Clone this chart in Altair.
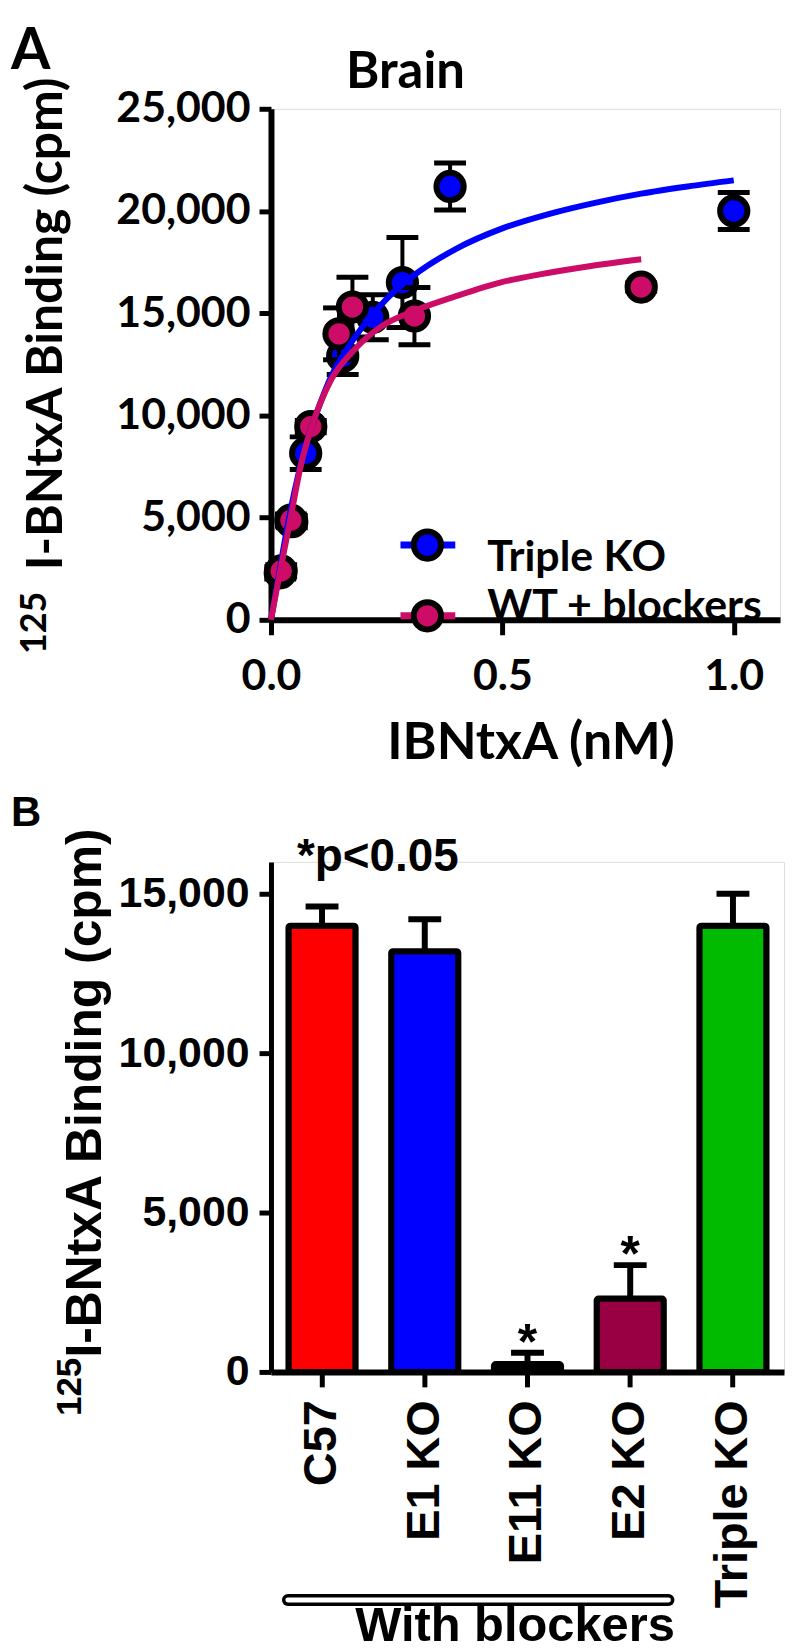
import altair as alt
import pandas as pd

# ---------------- Panel A data ----------------
series_names = ["Triple KO", "WT + blockers"]

tko_x = [0.02, 0.045, 0.075, 0.155, 0.22, 0.284, 0.387, 1.0]
tko_y = [2300, 4800, 8150, 12900, 14800, 16500, 21200, 20000]
tko_err = [300, 300, 800, 900, 1100, 2200, 1150, 900]

wt_x = [0.022, 0.043, 0.086, 0.147, 0.176, 0.31, 0.80]
wt_y = [2390, 4875, 9455, 13990, 15300, 14860, 16280]
wt_err = [300, 300, 300, 1270, 1460, 1400, 200]

tko_fit_x = [0, 0.02, 0.04, 0.06, 0.08, 0.1, 0.13, 0.16, 0.2, 0.25, 0.3, 0.4, 0.5, 0.6, 0.7, 0.8, 0.9, 1.0]
tko_fit_y = [0, 2600, 5100, 7200, 8900, 10200, 11900, 13100, 14400, 15700, 16700, 18150, 19150, 19850, 20400, 20850, 21200, 21500]

wt_fit_x = [0, 0.02, 0.04, 0.065, 0.086, 0.129, 0.178, 0.237, 0.308, 0.394, 0.495, 0.581, 0.688, 0.8]
wt_fit_y = [0, 2400, 4700, 7600, 9300, 11700, 13160, 14330, 15100, 15790, 16500, 16900, 17300, 17640]

xA_ticks = [0, 0.5, 1.0]
yA_ticks = [0, 5000, 10000, 15000, 20000, 25000]

# ---------------- Panel B data ----------------
groups = ["C57", "E1 KO", "E11 KO", "E2 KO", "Triple KO"]
binding = [14000, 13200, 250, 2300, 14000]
binding_err = [600, 1000, 350, 1050, 1000]
sig = ["", "", "*", "*", ""]
yB_ticks = [0, 5000, 10000, 15000]

# ---------------- styles ----------------
BLUE = "#0000FF"
PINK = "#CC0C66"
bar_colors = ["#FF0000", "#0000FF", "#000000", "#990044", "#00BB00"]
FA = "Lato"
FB = "Liberation Sans"


def label(text, x, y, font, size, angle=0, align="left", baseline="alphabetic", color="black"):
    return alt.Chart(pd.DataFrame({"t": [text]})).mark_text(
        font=font, fontSize=size, fontWeight="bold", align=align,
        baseline=baseline, angle=angle, color=color
    ).encode(x=alt.value(x), y=alt.value(y), text="t:N")


# ---------------- Panel A ----------------
W_A, H_A = 511, 513
xA_scale = alt.Scale(domain=[0, 1.1], nice=False, zero=False)
yA_scale = alt.Scale(domain=[0, 25000], nice=False)
xA_axis = alt.Axis(values=xA_ticks, format=".1f", title=None, grid=False,
                   labelFont=FA, labelFontSize=43, labelFontWeight="bold", labelColor="black",
                   labelFlush=False, labelOverlap=False,
                   domainColor="black", domainWidth=6, tickColor="black", tickWidth=5,
                   tickSize=15, labelPadding=21)
yA_axis = alt.Axis(values=yA_ticks, format=",d", title=None, grid=False,
                   labelFont=FA, labelFontSize=43, labelFontWeight="bold", labelColor="black",
                   labelFlush=False, labelOverlap=False,
                   domainColor="black", domainWidth=6, tickColor="black", tickWidth=5,
                   tickSize=12, labelPadding=9)


def XA(field="x"):
    return alt.X(f"{field}:Q", scale=xA_scale, axis=xA_axis)


def YA(field="y"):
    return alt.Y(f"{field}:Q", scale=yA_scale, axis=yA_axis)


def series_layers(xs, ys, es, fill):
    df = pd.DataFrame({"x": xs, "y": ys,
                       "lo": [v - e for v, e in zip(ys, es)],
                       "hi": [v + e for v, e in zip(ys, es)]})
    caps = pd.DataFrame({"x": xs + xs,
                         "y": list(df["lo"]) + list(df["hi"])})
    err = alt.Chart(df).mark_rule(color="black", strokeWidth=4).encode(
        x=XA(), y=YA("lo"), y2="hi:Q")
    cap = alt.Chart(caps).mark_tick(orient="horizontal", size=32, thickness=5,
                                    color="black", opacity=1).encode(x=XA(), y=YA())
    pts = alt.Chart(df).mark_circle(size=750, fill=fill, stroke="black", strokeWidth=6,
                                    opacity=1, fillOpacity=1, strokeOpacity=1).encode(
        x=XA(), y=YA())
    return [err, cap, pts]


def fit_layer(xs, ys, color):
    return alt.Chart(pd.DataFrame({"x": xs, "y": ys})).mark_line(
        color=color, strokeWidth=6, interpolate="monotone").encode(x=XA(), y=YA())


def legend_entry(name, color, sx, sy, tx, ty):
    d = pd.DataFrame({"t": [name]})
    seg = alt.Chart(d).mark_rule(color=color, strokeWidth=7).encode(
        x=alt.value(sx - 27), x2=alt.value(sx + 28), y=alt.value(sy))
    dot = alt.Chart(d).mark_circle(size=750, fill=color, stroke="black", strokeWidth=6,
                                   opacity=1).encode(x=alt.value(sx), y=alt.value(sy))
    txt = alt.Chart(d).mark_text(font=FA, fontSize=43, fontWeight="bold", align="left",
                                 color="black").encode(
        x=alt.value(tx), y=alt.value(ty), text="t:N")
    return [seg, dot, txt]


layersA = []
layersA += series_layers(tko_x, tko_y, tko_err, BLUE)
layersA += series_layers(wt_x, wt_y, wt_err, PINK)
layersA += [fit_layer(tko_fit_x, tko_fit_y, BLUE), fit_layer(wt_fit_x, wt_fit_y, PINK)]
layersA += legend_entry(series_names[0], BLUE, 157, 438, 217, 451)
layersA += legend_entry(series_names[1], PINK, 157, 509, 217, 500)
layersA += [
    label("A", -261, -40, FA, 57),
    label("Brain", 135, -21, FA, 51, align="center"),
    label("I-BNtxA Binding (cpm)", -210, 216, FA, 50, angle=270, align="center"),
    label("125", -226, 516, FA, 36, angle=270, align="center"),
    label("IBNtxA (nM)", 261, 653, FA, 52, align="center"),
]
panelA = alt.layer(*layersA).properties(width=W_A, height=H_A)

# ---------------- Panel B ----------------
W_B, H_B = 515, 512
dfB = pd.DataFrame({"group": groups, "val": binding,
                    "hi": [v + e for v, e in zip(binding, binding_err)],
                    "sig": sig})
xB = alt.X("group:N", sort=groups,
           scale=alt.Scale(domain=groups, paddingInner=0.346, paddingOuter=0.17),
           axis=alt.Axis(labelAngle=270, title=None, grid=False,
                         labelFont=FB, labelFontSize=47, labelFontWeight="bold",
                         labelColor="black", labelOverlap=False, labelLimit=500,
                         domainColor="black", domainWidth=6, tickColor="black",
                         tickWidth=5, tickSize=15, labelPadding=13))
yB_axis = alt.Axis(values=yB_ticks, format=",d", title=None, grid=False,
                   labelFont=FB, labelFontSize=43, labelFontWeight="bold", labelColor="black",
                   labelFlush=False, labelOverlap=False,
                   domainColor="black", domainWidth=5, tickColor="black", tickWidth=5,
                   tickSize=12, labelPadding=10)
yB_scale = alt.Scale(domain=[0, 16000], nice=False)

errB = alt.Chart(dfB).mark_rule(color="black", strokeWidth=6).encode(
    x=xB, y=alt.Y("val:Q", scale=yB_scale, axis=yB_axis), y2="hi:Q")
capB = alt.Chart(dfB).mark_tick(size=33, thickness=6, color="black", opacity=1).encode(
    x=xB, y=alt.Y("hi:Q", scale=yB_scale, axis=yB_axis))
bars = alt.Chart(dfB).mark_bar(stroke="black", strokeWidth=6, cornerRadius=2,
                               strokeJoin="round").encode(
    x=xB, y=alt.Y("val:Q", scale=yB_scale, axis=yB_axis),
    fill=alt.Fill("group:N", scale=alt.Scale(domain=groups, range=bar_colors), legend=None))
stars = alt.Chart(dfB).mark_text(font=FB, fontSize=50, fontWeight="bold", dy=-9,
                                 color="black").encode(
    x=xB, y=alt.Y("hi:Q", scale=yB_scale, axis=yB_axis), text="sig:N")

bracket_d = pd.DataFrame({"t": ["With blockers"]})
bracket_out = alt.Chart(bracket_d).mark_rule(color="black", strokeWidth=12,
                                             strokeCap="round").encode(
    x=alt.value(17), x2=alt.value(399), y=alt.value(741))
bracket_in = alt.Chart(bracket_d).mark_rule(color="white", strokeWidth=5,
                                            strokeCap="round").encode(
    x=alt.value(17), x2=alt.value(399), y=alt.value(741))

panelB = alt.layer(
    errB, capB, bars, stars, bracket_out, bracket_in,
    label("B", -261, -36, FB, 42),
    label("*p<0.05", 26, 9, FB, 46),
    label("I-BNtxA Binding (cpm)", -171, 232, FB, 50, angle=270, align="center"),
    label("125", -191, 527, FB, 35, angle=270, align="center"),
    label("With blockers", 245, 782, FB, 49, align="center"),
).properties(width=W_B, height=H_B)

chart = alt.vconcat(panelA, panelB, spacing=21).properties(
    padding={"left": 2, "top": 11, "right": 0, "bottom": 0}
).configure_view(stroke=None).configure(background="white")

chart.save("out.html", embed_options={"renderer": "svg", "actions": False})
